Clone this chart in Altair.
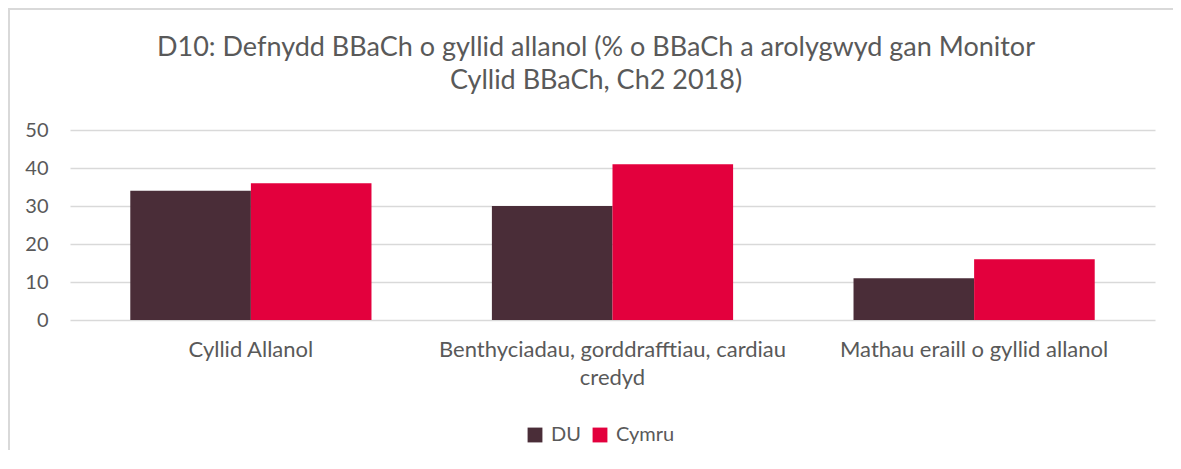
import altair as alt
import pandas as pd

categories = ["Cyllid Allanol", "Benthyciadau, gorddrafftiau, cardiau|credyd", "Mathau eraill o gyllid allanol"]
series = ["DU", "Cymru"]
du_values = [34, 30, 11]
cymru_values = [36, 41, 16]
colors = ["#4A2D38", "#E3003D"]
title_lines = ["D10: Defnydd BBaCh o gyllid allanol (% o BBaCh a arolygwyd gan Monitor", "Cyllid BBaCh, Ch2 2018)"]

rows = []
for c, a, b in zip(categories, du_values, cymru_values):
    rows.append({"cat": c, "series": "DU", "value": a})
    rows.append({"cat": c, "series": "Cymru", "value": b})
df = pd.DataFrame(rows)

FONT = "Lato"
GREY = "#595959"

bars = alt.Chart(df).mark_bar().encode(
    x=alt.X("cat:N", sort=categories, title=None,
            scale=alt.Scale(paddingInner=0.333, paddingOuter=0.1667),
            axis=alt.Axis(labelAngle=0, labelExpr="split(datum.label, '|')",
                          labelFontSize=22, labelColor=GREY, labelFont=FONT,
                          labelPadding=19, labelLineHeight=28, labelLimit=1000,
                          domain=False, ticks=False, grid=False)),
    xOffset=alt.XOffset("series:N", sort=series, scale=alt.Scale(paddingInner=0, paddingOuter=0)),
    y=alt.Y("value:Q", title=None, scale=alt.Scale(domain=[0, 50]),
            axis=alt.Axis(values=[0, 10, 20, 30, 40, 50], labelFontSize=20, labelColor=GREY,
                          labelFont=FONT, labelPadding=22, domain=False, ticks=False,
                          grid=True, gridColor="#D9D9D9", gridWidth=1.5)),
    color=alt.Color("series:N", sort=series,
                    scale=alt.Scale(domain=series, range=colors),
                    legend=alt.Legend(title=None, orient="none", direction="horizontal",
                                      legendX=455, legendY=295, symbolType="square",
                                      symbolSize=220, labelFontSize=20, labelColor=GREY,
                                      labelFont=FONT, columnPadding=9, labelOffset=6,
                                      symbolStrokeWidth=0)),
)

one = pd.DataFrame({"b": [0]})
left_edge = alt.Chart(one).mark_rule(color="#D9D9D9", strokeWidth=2, clip=False).encode(
    x=alt.value(-61), x2=alt.value(-61), y=alt.value(-122), y2=alt.value(328))
top_edge = alt.Chart(one).mark_rule(color="#D9D9D9", strokeWidth=2, clip=False).encode(
    x=alt.value(-62), x2=alt.value(1103), y=alt.value(-121), y2=alt.value(-121))

title = alt.Chart(one).mark_text(
    text=title_lines, font=FONT, fontSize=27, color=GREY, align="center",
    baseline="middle", lineHeight=33, clip=False
).encode(x=alt.value(526), y=alt.value(-82))

chart = alt.layer(left_edge, top_edge, title, bars).properties(
    width=1085, height=190,
    autosize=alt.AutoSizeParams(type="none"),
    padding={"left": 62, "top": 122, "right": 18, "bottom": 130},
).configure_view(stroke=None)

chart.save("out.html", embed_options={"renderer": "svg", "actions": False})
